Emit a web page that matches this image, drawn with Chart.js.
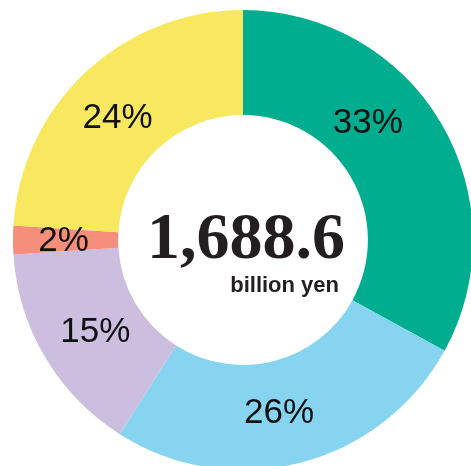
<!DOCTYPE html>
<html>
<head>
<meta charset="utf-8">
<script src="https://cdn.jsdelivr.net/npm/chart.js@4"></script>
<style>
    html, body { margin: 0; padding: 0; background: #fff; overflow: hidden; }
    body { width: 471px; height: 466px; position: relative; }
    #wrap { position: absolute; left: 13px; top: 10px; width: 460px; height: 460px; }
</style>
</head>
<body>
<div id="wrap"><canvas id="shareChart" width="460" height="460"></canvas></div>
<script>
const segments = ['A', 'B', 'C', 'D', 'E'];
const shares = [33, 26, 15, 2, 24];
const sliceColors = ['#00ad8f', '#87d4f1', '#cbbedf', '#f58e7a', '#f8e85f'];
const totalValue = '1,688.6';
const totalUnit = 'billion yen';

// percent labels sit in the middle of each ring slice, a few nudged by hand
const percentLabels = {
    id: 'percentLabels',
    afterDatasetsDraw(chart, args, opts) {
        const ctx = chart.ctx;
        const meta = chart.getDatasetMeta(0);
        ctx.save();
        ctx.fillStyle = '#111';
        ctx.font = '35px "Liberation Sans", Arial, sans-serif';
        ctx.textAlign = 'center';
        ctx.textBaseline = 'middle';
        meta.data.forEach((arc, i) => {
            const p = arc.tooltipPosition();
            const shift = opts.shift[i] || [0, 0];
            ctx.fillText(shares[i] + '%', p.x + shift[0], p.y + shift[1] + 2);
        });
        ctx.restore();
    }
};

const centerTotal = {
    id: 'centerTotal',
    afterDraw(chart) {
        const ctx = chart.ctx;
        const arc = chart.getDatasetMeta(0).data[0];
        const cx = arc.x, cy = arc.y;
        ctx.save();
        ctx.fillStyle = '#231f20';
        ctx.textAlign = 'center';
        ctx.textBaseline = 'alphabetic';
        ctx.font = 'bold 66px "Liberation Serif", "Times New Roman", serif';
        ctx.fillText(totalValue, cx + 3, cy + 18);
        ctx.textAlign = 'right';
        ctx.font = 'bold 22px "Liberation Sans", Arial, sans-serif';
        ctx.fillText(totalUnit, cx + 96, cy + 52);
        ctx.restore();
    }
};

new Chart(document.getElementById('shareChart').getContext('2d'), {
    type: 'doughnut',
    data: {
        labels: segments,
        datasets: [{
            data: shares,
            backgroundColor: sliceColors,
            borderWidth: 0
        }]
    },
    options: {
        responsive: false,
        animation: false,
        cutout: '54.3%',
        layout: { padding: 0 },
        plugins: {
            legend: { display: false },
            tooltip: { enabled: false },
            percentLabels: { shift: { 0: [-28, -28], 1: [-8, -1], 2: [5, 0], 3: [-2, -1], 4: [-4, 6] } }
        }
    },
    plugins: [percentLabels, centerTotal]
});
</script>
</body>
</html>
